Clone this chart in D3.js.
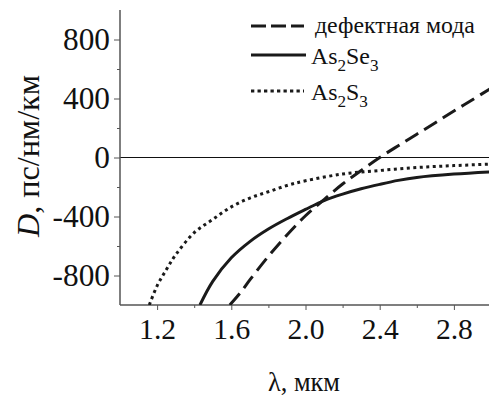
<!DOCTYPE html>
<html lang="ru">
<head>
<meta charset="UTF-8">
<title>D(λ)</title>
<script src="https://cdn.jsdelivr.net/npm/d3@7"></script>
<style>
	html,body{margin:0;padding:0;background:#fff;}
	svg{display:block;}
	.axis path,.axis line{stroke:#555;}
	.curve{fill:none;stroke:#1a1a1a;stroke-width:3;}
</style>
</head>
<body>
<svg id="svg" width="489" height="398"></svg>
<script>
// λ, мкм and D, пс/нм/км
var lamDefect = [1.592, 1.65, 1.70, 1.80, 1.90, 2.00, 2.10, 2.20, 2.30, 2.40, 2.50, 2.60, 2.70, 2.80, 2.90, 3.0];
var dDefect   = [-1000, -915, -830, -670, -525, -395, -285, -180, -88, 0, 80, 158, 236, 315, 392, 470];

var lamSe = [1.431, 1.50, 1.60, 1.70, 1.80, 1.90, 2.00, 2.10, 2.20, 2.30, 2.40, 2.50, 2.60, 2.80, 3.0];
var dSe   = [-1000, -840, -680, -570, -485, -415, -352, -292, -248, -212, -182, -155, -135, -112, -97];

var lamS = [1.158, 1.20, 1.25, 1.30, 1.40, 1.50, 1.60, 1.70, 1.80, 1.90, 2.00, 2.20, 2.40, 2.60, 2.80, 3.0];
var dS   = [-1000, -870, -760, -660, -510, -420, -335, -275, -232, -190, -158, -112, -88, -68, -55, -45];

var xMajor = [1.2, 1.6, 2.0, 2.4, 2.8];
var xMinor = [1.4, 1.8, 2.2, 2.6];
var yMajor = [-800, -400, 0, 400, 800];
var yMinor = [-600, -200, 200, 600];

var legendNames = ["дефектная мода", "As2Se3", "As2S3"];

var FONT = "'Liberation Serif'";

var svg = d3.select("#svg");
var x = d3.scaleLinear().domain([1.0, 3.0]).range([120, 491]);
var y = d3.scaleLinear().domain([-1000, 1000]).range([305, 10]);

// scale a text's font so that it spans the width seen in the picture
function fit(sel, size, target){
	sel.attr("font-size", size);
	var w = sel.node().getComputedTextLength();
	if(w > 0) sel.attr("font-size", size*target/w);
	return sel;
}

svg.append("clipPath").attr("id","clip")
	.append("rect").attr("x",120).attr("y",10).attr("width",371).attr("height",295);

// zero line
svg.append("line")
	.attr("x1",x(1.0)).attr("x2",489)
	.attr("y1",y(0)).attr("y2",y(0))
	.attr("stroke","#111").attr("stroke-width",1.2);

// axes
svg.append("g").attr("class","axis")
	.attr("transform","translate(0,"+y(-1000)+")")
	.call(d3.axisBottom(x).tickValues(xMinor).tickSize(3).tickFormat(""))
	.call(g=>g.select(".domain").remove());
var xAx = svg.append("g").attr("class","axis")
	.attr("transform","translate(0,"+y(-1000)+")")
	.call(d3.axisBottom(x).tickValues(xMajor).tickSize(5).tickPadding(8).tickFormat(d3.format(".1f")))
	.call(g=>g.select(".domain").attr("d","M120,0H489").attr("stroke-width",1.5));
xAx.attr("font-family", null);
xAx.selectAll("text").style("font-family", FONT).attr("fill","#111");
var xs = +fit(xAx.selectAll("text").filter(d=>d==1.2), 30, 37).attr("font-size");
xAx.selectAll("text").attr("font-size", xs);

svg.append("g").attr("class","axis")
	.attr("transform","translate("+x(1.0)+",0)")
	.call(d3.axisLeft(y).tickValues(yMinor).tickSize(3).tickFormat(""))
	.call(g=>g.select(".domain").remove());
var yAx = svg.append("g").attr("class","axis")
	.attr("transform","translate("+x(1.0)+",0)")
	.call(d3.axisLeft(y).tickValues(yMajor).tickSize(6).tickPadding(4).tickFormat(d=>String(d)))
	.call(g=>g.select(".domain").attr("d","M0,10V305").attr("stroke-width",1.5));
yAx.attr("font-family", null);
yAx.selectAll("text").style("font-family", FONT).attr("fill","#111");
var ys = +fit(yAx.selectAll("text").filter(d=>d==800), 30, 47).attr("font-size");
yAx.selectAll("text").attr("font-size", ys);

// curves
var line = d3.line().curve(d3.curveCatmullRom.alpha(0.5))
	.x(d=>x(d[0])).y(d=>y(d[1]));
var plot = svg.append("g").attr("clip-path","url(#clip)");
var styles = ["15,7", null, "3,3.5"];
var series = [
	d3.zip(lamDefect, dDefect),
	d3.zip(lamSe, dSe),
	d3.zip(lamS, dS)
];
series.forEach(function(s,i){
	plot.append("path").attr("class","curve")
		.attr("d", line(s))
		.attr("stroke-dasharray", styles[i]);
});

// legend
var legY = [26, 55, 91];
var leg = svg.append("g");
var legSize = 28;
legendNames.forEach(function(n,i){
	leg.append("line")
		.attr("x1",251).attr("x2",i==1?306:304)
		.attr("y1",legY[i]).attr("y2",legY[i])
		.attr("stroke","#1a1a1a").attr("stroke-width",3)
		.attr("stroke-dasharray", i==0 ? "15,5" : (i==2 ? "3.3,3.2" : null));
	var t = leg.append("text").attr("x",i==0?315:311).attr("y",i==0?33:legY[i]+9)
		.style("font-family", FONT).attr("fill","#111");
	if(i==0){
		t.text(n);
		legSize = +fit(t, 28, 160).attr("font-size");
	} else {
		t.attr("font-size", legSize);
		var parts = i==1 ? [["As",0],["2",1],["Se",0],["3",1]] : [["As",0],["2",1],["S",0],["3",1]];
		var sub = 0;
		parts.forEach(function(p){
			t.append("tspan").text(p[0])
				.attr("font-size", p[1] ? legSize*0.72 : legSize)
				.attr("dy", p[1] ? 7 : (sub ? -7 : 0));
			sub = p[1];
		});
	}
});

// axis titles
var yt = svg.append("text")
	.attr("transform","translate(39,156) rotate(-90)")
	.attr("text-anchor","middle")
	.style("font-family", FONT).attr("fill","#111");
yt.append("tspan").attr("font-style","italic").text("D");
yt.append("tspan").text(", пс/нм/км");
fit(yt, 30, 162);

var xt = svg.append("text")
	.attr("x",304).attr("y",391)
	.attr("text-anchor","middle")
	.style("font-family", FONT).attr("fill","#111");
xt.append("tspan").text("λ");
xt.append("tspan").text(", мкм");
fit(xt, 25, 72);
</script>
</body>
</html>
